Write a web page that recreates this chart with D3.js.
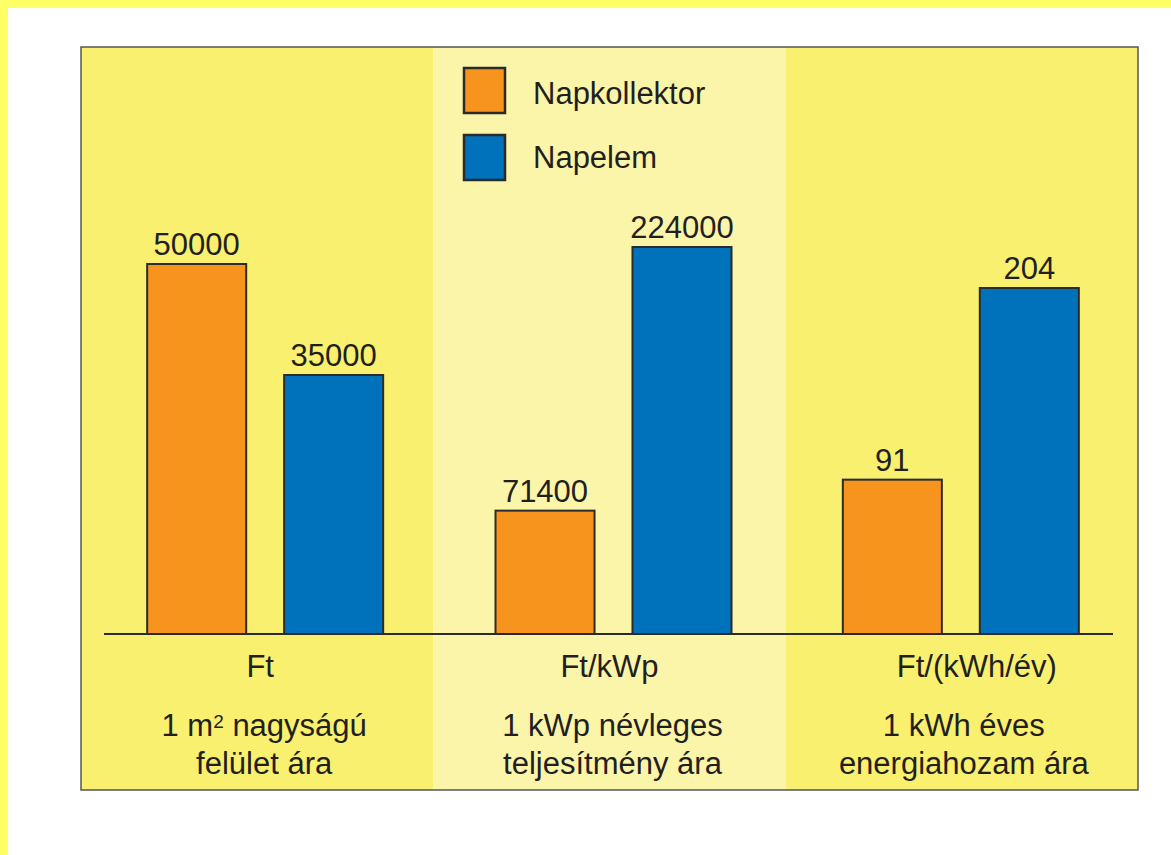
<!DOCTYPE html>
<html><head><meta charset="utf-8">
<script src="https://cdn.jsdelivr.net/npm/d3@7"></script>
<style>html,body{margin:0;padding:0;background:#fff;}svg{display:block;}</style>
</head><body>
<script>
const categories = ["1 m² nagyságú felület ára", "1 kWp névleges teljesítmény ára", "1 kWh éves energiahozam ára"];
const units = ["Ft", "Ft/kWp", "Ft/(kWh/év)"];
const labelLine1 = [["1 m", "2", " nagyságú"], ["1 kWp névleges"], ["1 kWh éves"]];
const labelLine2 = ["felület ára", "teljesítmény ára", "energiahozam ára"];
const series = ["Napkollektor", "Napelem"];
const napkollektor = [50000, 71400, 91];
const napelem = [35000, 224000, 204];

const W = 1171, H = 855;
const colors = {Napkollektor: "#F7941E", Napelem: "#0072BC"};
const textColor = "#231f20";
const font = "'Liberation Sans', Arial, sans-serif";
const fs = 31;

const svg = d3.select("body").append("svg").attr("width", W).attr("height", H);
svg.append("rect").attr("width", W).attr("height", H).attr("fill", "#fff");
// yellow border top & left
svg.append("rect").attr("x", 0).attr("y", 0).attr("width", W).attr("height", 8).attr("fill", "#FFFF66");
svg.append("rect").attr("x", 0).attr("y", 0).attr("width", 8).attr("height", H).attr("fill", "#FFFF66");

const box = {x0: 81, x1: 1138, y0: 47, y1: 790};
const baseline = 634;

const xPanel = d3.scaleBand().domain(categories).range([box.x0, box.x1]).padding(0);
const panelBg = ["#F8F06E", "#FBF5AA", "#F8F06E"];

svg.selectAll("rect.panel").data(categories).join("rect")
  .attr("class", "panel")
  .attr("x", d => xPanel(d)).attr("y", box.y0)
  .attr("width", xPanel.bandwidth()).attr("height", box.y1 - box.y0)
  .attr("fill", (d, i) => panelBg[i]);

svg.append("rect").attr("x", box.x0).attr("y", box.y0)
  .attr("width", box.x1 - box.x0).attr("height", box.y1 - box.y0)
  .attr("fill", "none").attr("stroke", "#555").attr("stroke-width", 1.5);

// per-panel value scales (each panel has its own unit)
const topY = [264, 247, 288];
const yScales = categories.map((c, i) => {
  const m = Math.max(napkollektor[i], napelem[i]);
  return d3.scaleLinear().domain([0, m]).range([baseline, topY[i]]);
});

const xInner = d3.scaleBand().domain(series).range([-118, 118]).paddingInner(0.277).paddingOuter(0);

const data = [];
categories.forEach((c, i) => {
  data.push({cat: c, i, s: "Napkollektor", v: napkollektor[i]});
  data.push({cat: c, i, s: "Napelem", v: napelem[i]});
});
const panelCenter = i => xPanel(categories[i]) + xPanel.bandwidth() / 2 + [8, 4, -1][i];

svg.selectAll("rect.bar").data(data).join("rect")
  .attr("class", "bar")
  .attr("x", d => panelCenter(d.i) + xInner(d.s))
  .attr("y", d => yScales[d.i](d.v))
  .attr("width", xInner.bandwidth())
  .attr("height", d => baseline - yScales[d.i](d.v))
  .attr("fill", d => colors[d.s])
  .attr("stroke", "#2b2b2b").attr("stroke-width", 2);

svg.selectAll("text.val").data(data).join("text")
  .attr("class", "val")
  .attr("x", d => panelCenter(d.i) + xInner(d.s) + xInner.bandwidth() / 2)
  .attr("y", d => yScales[d.i](d.v) - 9)
  .attr("text-anchor", "middle")
  .attr("font-family", font).attr("font-size", fs).attr("fill", textColor)
  .text(d => d.v);

// baseline
svg.append("line").attr("x1", 104).attr("x2", 1113).attr("y1", baseline).attr("y2", baseline)
  .attr("stroke", "#2b2b2b").attr("stroke-width", 2);

// units
const unitOffset = [3, 0, 15];
svg.selectAll("text.unit").data(units).join("text")
  .attr("class", "unit")
  .attr("x", (d, i) => xPanel(categories[i]) + xPanel.bandwidth() / 2 + unitOffset[i])
  .attr("y", 677)
  .attr("text-anchor", "middle")
  .attr("font-family", font).attr("font-size", fs).attr("fill", textColor)
  .text(d => d);

// category labels
const catOffset = [7, 3, 2];
const l1 = svg.selectAll("text.cat1").data(labelLine1).join("text")
  .attr("class", "cat1")
  .attr("x", (d, i) => xPanel(categories[i]) + xPanel.bandwidth() / 2 + catOffset[i])
  .attr("y", 736)
  .attr("text-anchor", "middle")
  .attr("font-family", font).attr("font-size", fs).attr("fill", textColor);
l1.each(function(parts) {
  const t = d3.select(this);
  parts.forEach((p, k) => {
    const ts = t.append("tspan").text(p);
    if (parts.length > 1 && k === 1) ts.attr("font-size", 19).attr("dy", -8);
    if (parts.length > 1 && k === 2) ts.attr("dy", 8);
  });
});
svg.selectAll("text.cat2").data(labelLine2).join("text")
  .attr("class", "cat2")
  .attr("x", (d, i) => xPanel(categories[i]) + xPanel.bandwidth() / 2 + catOffset[i])
  .attr("y", 774)
  .attr("text-anchor", "middle")
  .attr("font-family", font).attr("font-size", fs).attr("fill", textColor)
  .text(d => d);

// legend
const legend = svg.append("g");
series.forEach((s, k) => {
  legend.append("rect").attr("x", 464).attr("y", 68 + k * 67)
    .attr("width", 41).attr("height", 45)
    .attr("fill", colors[s]).attr("stroke", "#2b2b2b").attr("stroke-width", 2.5);
  legend.append("text").attr("x", 533).attr("y", 104 + k * 64)
    .attr("font-family", font).attr("font-size", fs).attr("fill", textColor)
    .text(s);
});
</script>
</body></html>
